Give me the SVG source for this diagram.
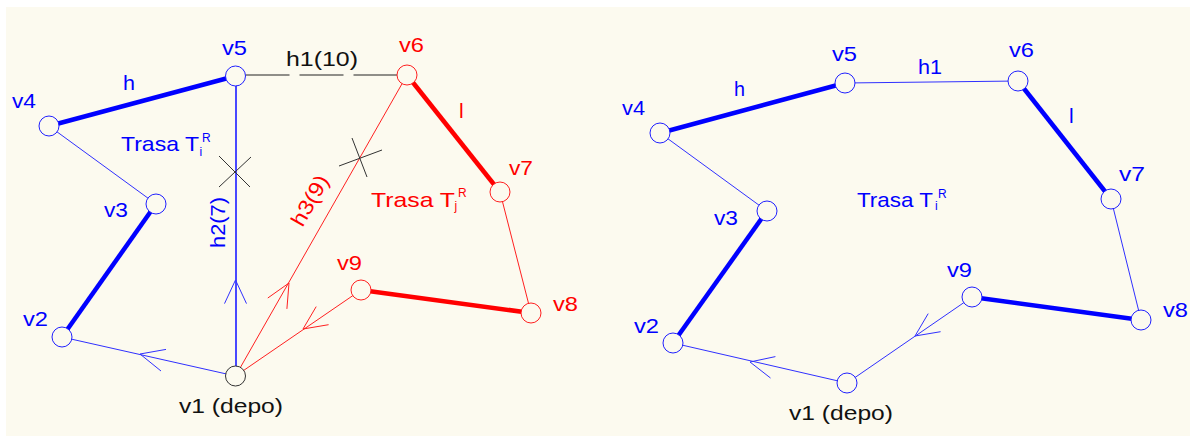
<svg xmlns="http://www.w3.org/2000/svg" width="1190" height="436" viewBox="0 0 1190 436">
<style>
text{font-family:"Liberation Sans",Arial,sans-serif;font-size:21px}
.b{fill:#0000FF}.r{fill:#FF0000}.k{fill:#111111}
.sm{font-size:12px}
.nb{fill:#FCFAEF;stroke:#2020FF;stroke-width:1}
.nr{fill:#FCFAEF;stroke:#FF2020;stroke-width:1}
.nk{fill:#FCFAEF;stroke:#333333;stroke-width:1}
.tb{stroke:#3030FF;stroke-width:1;fill:none}
.Tb{stroke:#0000FF;stroke-width:4.5;fill:none}
.tr{stroke:#FF2020;stroke-width:1;fill:none}
.Tr{stroke:#FF0000;stroke-width:4.5;fill:none}
.tk{stroke:#222222;stroke-width:1;fill:none}
.x{stroke:#333333;stroke-width:1;fill:none}
</style>
<rect x="0" y="0" width="1190" height="436" fill="#FFFFFF"/>
<rect x="6" y="7" width="1184" height="429" fill="#FCFAEF"/>

<g id="connectors">
  <!-- left diagram -->
  <line class="Tb" x1="49" y1="126" x2="235.5" y2="76"/>
  <line class="tb" x1="49" y1="126" x2="156" y2="204"/>
  <line class="Tb" x1="156" y1="204" x2="62" y2="337"/>
  <line class="tb" x1="62" y1="337" x2="235.5" y2="376"/>
  <polyline class="tb" points="166,349.4 140,354 161,371"/>
  <line x1="236" y1="376" x2="236" y2="76" stroke="#4848FF" stroke-width="2"/>
  <polyline class="tb" points="224.5,303.6 235.5,280 246.5,303.6"/>
  <line class="tk" x1="245.5" y1="75" x2="397" y2="75" stroke-dasharray="44 10"/>
  <line class="Tr" x1="407" y1="75" x2="500" y2="192"/>
  <line class="tr" x1="500" y1="192" x2="531" y2="313"/>
  <line class="Tr" x1="531" y1="313" x2="361" y2="290"/>
  <line class="tr" x1="361" y1="290" x2="235.5" y2="376"/>
  <polyline class="tr" points="316.2,306.6 303,329 328.6,324.7"/>
  <line class="tr" x1="235.5" y1="376" x2="407" y2="75"/>
  <polyline class="tr" points="267.8,298 289,283 286.9,308.9"/>
  <line class="x" x1="219" y1="156" x2="250" y2="187"/>
  <line class="x" x1="251" y1="157" x2="219" y2="187"/>
  <line class="x" x1="339" y1="166" x2="382" y2="150"/>
  <line class="x" x1="352" y1="138" x2="367" y2="177"/>
  <!-- right diagram -->
  <line class="Tb" x1="660" y1="133" x2="845" y2="83"/>
  <line class="tb" x1="660" y1="133" x2="767" y2="211"/>
  <line class="Tb" x1="767" y1="211" x2="673" y2="343"/>
  <line class="tb" x1="673" y1="343" x2="847" y2="383"/>
  <polyline class="tb" points="775.4,356.6 750,362 770.5,378"/>
  <line class="tb" x1="847" y1="383" x2="972" y2="297"/>
  <polyline class="tb" points="928.2,313.6 915,336 940.6,331.7"/>
  <line class="Tb" x1="972" y1="297" x2="1141" y2="320"/>
  <line class="tb" x1="1141" y1="320" x2="1111" y2="199"/>
  <line class="Tb" x1="1111" y1="199" x2="1018" y2="81"/>
  <line class="tb" x1="1018" y1="81" x2="845" y2="83"/>
</g>

<g id="edge-labels">
  <text class="b" x="123" y="90" textLength="12" lengthAdjust="spacingAndGlyphs">h</text>
  <text class="k" x="286" y="66" textLength="72" lengthAdjust="spacingAndGlyphs">h1(10)</text>
  <text class="r" x="459" y="118">l</text>
  <text class="b" transform="translate(225,248) rotate(-90)" textLength="51" lengthAdjust="spacingAndGlyphs">h2(7)</text>
  <text class="r" transform="translate(302.5,228) rotate(-60.4)" textLength="55" lengthAdjust="spacingAndGlyphs">h3(9)</text>
  <text class="b" x="734" y="96" textLength="11" lengthAdjust="spacingAndGlyphs">h</text>
  <text class="b" x="918" y="74" textLength="24" lengthAdjust="spacingAndGlyphs">h1</text>
  <text class="b" x="1069" y="123">l</text>
</g>

<g id="route-labels">
  <g id="trasa-i-left">
    <text class="b" x="121" y="151" textLength="78" lengthAdjust="spacingAndGlyphs">Trasa T</text>
    <text class="b sm" x="202" y="142">R</text>
    <text class="b sm" x="199.5" y="156">i</text>
  </g>
  <g id="trasa-j-left">
    <text class="r" x="371" y="207" textLength="84" lengthAdjust="spacingAndGlyphs">Trasa T</text>
    <text class="r sm" x="458" y="197">R</text>
    <text class="r sm" x="454.5" y="210">j</text>
  </g>
  <g id="trasa-i-right">
    <text class="b" x="857" y="207" textLength="76" lengthAdjust="spacingAndGlyphs">Trasa T</text>
    <text class="b sm" x="938" y="198">R</text>
    <text class="b sm" x="935" y="210">i</text>
  </g>
</g>

<g id="L-v1"><circle class="nk" cx="235.5" cy="376" r="10"/><text class="k" x="179" y="413" textLength="104" lengthAdjust="spacingAndGlyphs">v1 (depo)</text></g>
<g id="L-v2"><circle class="nb" cx="62" cy="337" r="10"/><text class="b" x="23" y="326" textLength="25" lengthAdjust="spacingAndGlyphs">v2</text></g>
<g id="L-v3"><circle class="nb" cx="156" cy="204" r="10"/><text class="b" x="104" y="217" textLength="24" lengthAdjust="spacingAndGlyphs">v3</text></g>
<g id="L-v4"><circle class="nb" cx="49" cy="126" r="10"/><text class="b" x="12" y="108" textLength="24" lengthAdjust="spacingAndGlyphs">v4</text></g>
<g id="L-v5"><circle class="nb" cx="235.5" cy="76" r="10"/><text class="b" x="222" y="55" textLength="25" lengthAdjust="spacingAndGlyphs">v5</text></g>
<g id="L-v6"><circle class="nr" cx="407" cy="75" r="10"/><text class="r" x="399" y="52" textLength="25" lengthAdjust="spacingAndGlyphs">v6</text></g>
<g id="L-v7"><circle class="nr" cx="500" cy="192" r="10"/><text class="r" x="509" y="175" textLength="24" lengthAdjust="spacingAndGlyphs">v7</text></g>
<g id="L-v8"><circle class="nr" cx="531" cy="313" r="10"/><text class="r" x="553" y="311" textLength="25" lengthAdjust="spacingAndGlyphs">v8</text></g>
<g id="L-v9"><circle class="nr" cx="361" cy="290" r="10"/><text class="r" x="337" y="270" textLength="25" lengthAdjust="spacingAndGlyphs">v9</text></g>

<g id="R-v1"><circle class="nb" cx="847" cy="383" r="10"/><text class="k" x="789" y="420" textLength="104" lengthAdjust="spacingAndGlyphs">v1 (depo)</text></g>
<g id="R-v2"><circle class="nb" cx="673" cy="343" r="10"/><text class="b" x="634" y="333" textLength="25" lengthAdjust="spacingAndGlyphs">v2</text></g>
<g id="R-v3"><circle class="nb" cx="767" cy="211" r="10"/><text class="b" x="714" y="225" textLength="24" lengthAdjust="spacingAndGlyphs">v3</text></g>
<g id="R-v4"><circle class="nb" cx="660" cy="133" r="10"/><text class="b" x="622" y="115" textLength="23" lengthAdjust="spacingAndGlyphs">v4</text></g>
<g id="R-v5"><circle class="nb" cx="845" cy="83" r="10"/><text class="b" x="832" y="61" textLength="25" lengthAdjust="spacingAndGlyphs">v5</text></g>
<g id="R-v6"><circle class="nb" cx="1018" cy="81" r="10"/><text class="b" x="1009" y="57" textLength="25" lengthAdjust="spacingAndGlyphs">v6</text></g>
<g id="R-v7"><circle class="nb" cx="1111" cy="199" r="10"/><text class="b" x="1119" y="181" textLength="26" lengthAdjust="spacingAndGlyphs">v7</text></g>
<g id="R-v8"><circle class="nb" cx="1141" cy="320" r="10"/><text class="b" x="1163" y="317" textLength="25" lengthAdjust="spacingAndGlyphs">v8</text></g>
<g id="R-v9"><circle class="nb" cx="972" cy="297" r="10"/><text class="b" x="947" y="277" textLength="25" lengthAdjust="spacingAndGlyphs">v9</text></g>
</svg>
